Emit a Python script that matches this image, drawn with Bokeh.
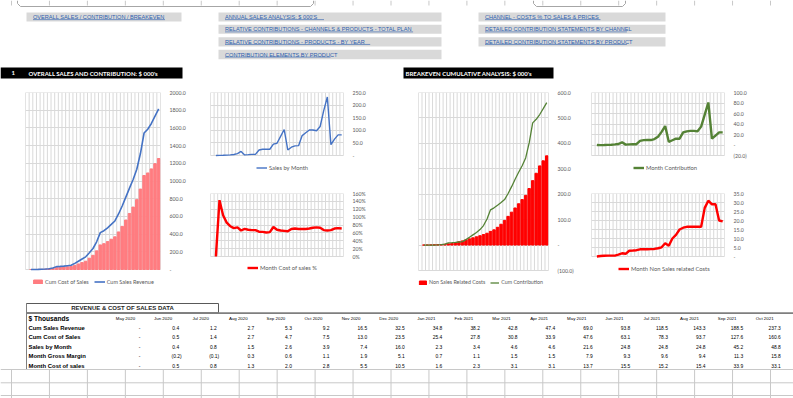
from bokeh.plotting import figure
from bokeh.models import Range1d, FixedTicker, Legend, LegendItem, CustomJSTickFormatter, Column, Row
from bokeh.embed import file_html
from bokeh.resources import INLINE
from bokeh.core.properties import value

# ---------------- data ----------------
months = ["May 2020", "Jun 2020", "Jul 2020", "Aug 2020", "Sep 2020", "Oct 2020", "Nov 2020", "Dec 2020",
          "Jan 2021", "Feb 2021", "Mar 2021", "Apr 2021", "May 2021", "Jun 2021", "Jul 2021", "Aug 2021",
          "Sep 2021", "Oct 2021", "Nov 2021", "Dec 2021", "Jan 2022", "Feb 2022", "Mar 2022", "Apr 2022",
          "May 2022", "Jun 2022", "Jul 2022", "Aug 2022", "Sep 2022", "Oct 2022", "Nov 2022", "Dec 2022",
          "Jan 2023", "Feb 2023", "Mar 2023", "Apr 2023"]

cum_sales_revenue = [0, 0.4, 1.2, 2.7, 5.3, 9.2, 16.5, 32.5, 34.8, 38.2, 42.8, 47.4, 69.0, 93.8, 118.5, 143.3,
                     188.5, 237.3, 313.3, 416.3, 438.3, 471.3, 509.3, 548.3, 627.3, 717.3, 818.3, 919.3,
                     1017.3, 1132.3, 1310.3, 1542.3, 1585.3, 1650.3, 1732.3, 1814.3]
cum_cost_of_sales = [0, 0.5, 1.4, 2.7, 4.7, 7.5, 13.0, 23.5, 25.4, 27.8, 30.8, 33.9, 47.6, 63.1, 78.3, 93.7,
                     127.6, 160.6, 210.8, 277.8, 291.9, 315.0, 342.0, 369.3, 424.6, 487.6, 559.3, 633.0,
                     705.5, 789.5, 908.8, 1061.9, 1090.7, 1136.9, 1195.9, 1254.1]
sales_by_month = [0, 0.4, 0.8, 1.5, 2.6, 3.9, 7.4, 16.0, 2.3, 3.4, 4.6, 4.6, 21.6, 24.8, 24.8, 24.8, 45.2, 48.8,
                  76.0, 103.0, 22.0, 33.0, 38.0, 39.0, 79.0, 90.0, 101.0, 101.0, 98.0, 115.0, 178.0, 232.0,
                  43.0, 65.0, 82.0, 82.0]
month_gross_margin = [0, -0.2, -0.1, 0.3, 0.6, 1.1, 1.9, 5.1, 0.7, 1.1, 1.5, 1.5, 7.9, 9.3, 9.6, 9.4, 11.3, 15.8,
                      25.0, 36.0, 6.0, 9.0, 12.0, 12.0, 24.0, 26.0, 27.0, 27.0, 26.0, 35.0, 58.0, 81.0,
                      12.0, 18.0, 24.0, 24.0]
month_cost_of_sales = [0, 0.5, 0.8, 1.3, 2.0, 2.8, 5.5, 10.5, 1.6, 2.3, 3.1, 3.1, 13.7, 15.5, 15.2, 15.4, 33.9,
                       33.1, 50.2, 67.0, 14.1, 23.1, 27.0, 27.3, 55.3, 63.0, 71.7, 73.7, 72.5, 84.0, 119.3,
                       153.1, 28.8, 46.2, 59.0, 58.2]
month_cost_pct = [0, 143, 105, 86, 77, 72, 74, 66, 70, 68, 67, 67, 63, 62.5, 61, 62, 75, 68, 66, 65, 64, 70, 71,
                  70, 70, 70, 71, 73, 74, 73, 67, 66, 67, 71, 72, 71]
month_non_sales_costs = [0, 0.3, 0.4, 0.5, 0.5, 0.5, 1.0, 1.8, 1.5, 3.2, 3.3, 3.5, 4.0, 4.0, 4.0, 4.1, 4.2, 4.6,
                         5.1, 7.4, 6.0, 10.0, 12.0, 15.0, 16.0, 16.5, 16.5, 16.5, 16.5, 16.5, 27.0, 31.0,
                         29.0, 29.0, 20.0, 19.5]
cum_non_sales_costs = [0, 0.3, 0.7, 1.2, 1.7, 2.2, 3.2, 5.0, 6.5, 9.7, 13.0, 16.5, 20.5, 24.5, 28.5, 32.6, 36.8,
                       41.4, 46.5, 53.9, 59.9, 69.9, 81.9, 96.9, 112.9, 129.4, 145.9, 162.4, 178.9, 195.4,
                       222.4, 253.4, 282.4, 311.4, 331.4, 350.9]
cum_contribution = [0, -0.1, -0.2, 0.0, 0.6, 1.7, 3.5, 9.0, 9.4, 10.4, 12.0, 13.5, 21.4, 30.7, 40.2, 49.6, 60.9,
                    76.7, 102.5, 138.5, 146.4, 156.3, 167.3, 179.0, 202.7, 229.7, 259.0, 286.3, 311.8, 342.8,
                    401.5, 480.4, 494.6, 513.4, 536.4, 560.2]

links_col1 = ["OVERALL SALES / CONTRIBUTION / BREAKEVEN"]
links_col2 = ["ANNUAL SALES ANALYSIS: $ 000'S",
              "RELATIVE CONTRIBUTIONS - CHANNELS & PRODUCTS - TOTAL PLAN",
              "RELATIVE CONTRIBUTIONS -  PRODUCTS - BY YEAR",
              "CONTRIBUTION ELEMENTS BY PRODUCT"]
links_col3 = ["CHANNEL - COSTS % TO SALES & PRICES",
              "DETAILED CONTRIBUTION STATEMENTS BY CHANNEL",
              "DETAILED CONTRIBUTION STATEMENTS BY PRODUCT"]
section_titles = ["OVERALL SALES AND CONTRIBUTION: $ 000's", "BREAKEVEN CUMULATIVE ANALYSIS: $ 000's"]
table_title = "REVENUE & COST OF SALES DATA"
table_rows = ["Cum Sales Revenue", "Cum Cost of Sales", "Sales by Month", "Month Gross Margin", "Month Cost of sales"]
table_series = [cum_sales_revenue, cum_cost_of_sales, sales_by_month, month_gross_margin, month_cost_of_sales]
table_months = months[:18]

# ---------------- style ----------------
FONT = "Lato"
SHEET_FONT = "Liberation Sans"
GRID = "#D9D9D9"
LBL = "#595959"
SHEET_LINE = "#C8C8C8"
LINK = "#2E5FAE"

N_CAT = len(months) + 1
xs = list(range(1, len(months) + 1))
bounds = [k - 0.5 for k in range(N_CAT + 1)]

NUM_JS = """
if (Math.abs(tick) < 1e-9) { return '-'; }
if (tick < 0) { return '(' + (-tick).toFixed(1) + ')'; }
return tick.toFixed(1);
"""
PCT_JS = "return tick.toFixed(0) + '%';"


def deco(w, h):
    p = figure(width=w, height=h, x_range=Range1d(0, w), y_range=Range1d(h, 0),
               output_backend="svg", toolbar_location=None, min_border=0,
               x_axis_location=None, y_axis_location=None)
    p.grid.visible = False
    p.outline_line_color = None
    return p


def chart(w, h, bl, br, bt, data_h, ymin, ymax, ticks, js):
    # the frame runs down to the bottom edge so that the legend sits inside it
    ext = h - bt - data_h
    y0 = ymin - (ymax - ymin) * ext / data_h
    p = figure(width=w, height=h, x_range=Range1d(-0.5, N_CAT - 0.5), y_range=Range1d(y0, ymax),
               output_backend="svg", toolbar_location=None, x_axis_location=None, y_axis_location="right",
               min_border_left=bl, min_border_right=br, min_border_top=bt, min_border_bottom=0)
    tk = FixedTicker(ticks=ticks)
    ax = p.yaxis[0]
    ax.ticker = tk
    ax.formatter = CustomJSTickFormatter(code=js)
    ax.axis_line_color = None
    ax.major_tick_line_color = None
    ax.minor_tick_line_color = None
    ax.major_label_text_font = FONT
    ax.major_label_text_font_size = "5.2px"
    ax.major_label_text_color = LBL
    ax.major_label_standoff = 3
    p.ygrid.ticker = tk
    p.ygrid.grid_line_color = GRID
    p.xgrid.visible = False
    p.outline_line_color = None
    n = len(bounds)
    p.segment(x0=bounds, y0=[ymin] * n, x1=bounds, y1=[ymax] * n, color=GRID, line_width=1)
    p.quad(left=[-0.5], right=[N_CAT - 0.5], top=[ymax], bottom=[ymin], fill_color=None,
           line_color=GRID, line_width=1)
    return p


def add_legend(p, items, x, y, gw=11, fs="5.8px", sp=6):
    leg = Legend(items=[LegendItem(label=value(lab), renderers=[r]) for lab, r in items],
                 orientation="horizontal", location=(x, y), glyph_width=gw, glyph_height=5,
                 label_height=6, label_width=10, label_text_font=FONT, label_text_font_size=fs,
                 label_text_color=LBL, label_standoff=2, spacing=sp, padding=0, margin=0,
                 border_line_color=None, background_fill_alpha=0)
    p.add_layout(leg)


# ---------------- top panel (links + section bars) ----------------
top = deco(793, 86)
colx = [11 + 37.95 * k for k in range(21)]
top.segment(x0=colx, y0=[0] * len(colx), x1=colx, y1=[5] * len(colx), color=SHEET_LINE, line_width=1)
top.line(x=[17, 17, 20, 310, 313, 313], y=[0, 3, 6, 6, 3, 0], color="#A6A6A6", line_width=1)
top.line(x=[533, 533, 536, 622, 625, 625], y=[0, 3, 6, 6, 3, 0], color="#A6A6A6", line_width=1)

box_rows = [(12, 21), (24.3, 33.3), (36.7, 46), (49.3, 58.7)]
link_groups = [(links_col1, 26, 181, 32.5), (links_col2, 218, 441, 224.5), (links_col3, 478, 665, 484.5)]
for texts, bx0, bx1, tx in link_groups:
    n = len(texts)
    tops = [box_rows[i][0] for i in range(n)]
    bots = [box_rows[i][1] for i in range(n)]
    top.quad(left=[bx0] * n, right=[bx1] * n, top=tops, bottom=bots, fill_color="#D9D9D9", line_color=None)
    mids = [(a + b) / 2 for a, b in zip(tops, bots)]
    top.text(x=[tx] * n, y=mids, text=texts, text_font=value(SHEET_FONT), text_font_size="5.6px",
             text_color=LINK, text_align="left", text_baseline="middle")
    widths = [len(t) * 3.3 for t in texts]
    top.segment(x0=[tx] * n, y0=[m + 2.6 for m in mids], x1=[tx + wd for wd in widths],
                y1=[m + 2.6 for m in mids], color=LINK, line_width=0.6)

top.quad(left=[0, 403], right=[182, 553], top=[67, 67], bottom=[78, 78], fill_color="black", line_color=None)
top.text(x=[11, 28, 405], y=[72.7, 72.7, 72.7], text=["1"] + section_titles,
         text_font=value(FONT), text_font_size="6px", text_font_style="bold", text_color="white",
         text_align="left", text_baseline="middle")

# ---------------- charts ----------------
pA = chart(190, 209, 25, 30, 6, 177, 0, 2000, list(range(0, 2001, 200)), NUM_JS)
rA1 = pA.vbar(x=xs, top=cum_cost_of_sales, width=0.7, color="#FF7C80")
rA2 = pA.line(x=xs, y=cum_sales_revenue, color="#4472C4", line_width=1.6)
add_legend(pA, [("Cum Cost of Sales", rA1), ("Cum Sales Revenue", rA2)], 7, 10.5, fs="5.5px", sp=5)

pB1 = chart(210, 90, 20, 57, 6, 63, 0, 250, list(range(0, 251, 50)), NUM_JS)
rB1 = pB1.line(x=xs, y=sales_by_month, color="#4472C4", line_width=1.4)
add_legend(pB1, [("Sales by Month", rB1)], 46, 5.2)

pB2 = chart(210, 119, 20, 57, 17, 63, 0, 160, list(range(0, 161, 20)), PCT_JS)
rB2 = pB2.line(x=xs, y=month_cost_pct, color="#FF0000", line_width=2.4)
add_legend(pB2, [("Month Cost of sales %", rB2)], 37, 23.8)

pC = chart(180, 209, 18, 32, 6, 178, -100, 600, list(range(-100, 601, 100)), NUM_JS)
rC1 = pC.vbar(x=xs, top=cum_non_sales_costs, width=0.7, color="#FF0000")
rC2 = pC.line(x=xs, y=cum_contribution, color="#548235", line_width=1.3)
add_legend(pC, [("Non Sales Related Costs", rC1), ("Cum Contribution", rC2)], 0, 9.8, gw=9, fs="5.3px", sp=5)

pD1 = chart(213, 91, 11, 69, 6, 63, -20, 100, list(range(-20, 101, 20)), NUM_JS)
rD1 = pD1.line(x=xs, y=month_gross_margin, color="#548235", line_width=2.4)
add_legend(pD1, [("Month Contribution", rD1)], 42, 6.2)

pD2 = chart(213, 118, 11, 69, 16, 63, 0, 35, list(range(0, 36, 5)), NUM_JS)
rD2 = pD2.line(x=xs, y=month_non_sales_costs, color="#FF0000", line_width=2.4)
add_legend(pD2, [("Month Non Sales related Costs", rD2)], 27, 23.2)

# ---------------- table ----------------
tbl = deco(793, 103)
tbl.quad(left=[26], right=[218], top=[8], bottom=[17.3], fill_color=None, line_color="#595959", line_width=1)
tbl.segment(x0=[26], y0=[17.6], x1=[793], y1=[17.6], color="#7F7F7F", line_width=1.6)
tbl.segment(x0=[26], y0=[8], x1=[26], y1=[74], color="#7F7F7F", line_width=1)
tbl.text(x=[122], y=[12.8], text=[table_title], text_font=value(SHEET_FONT),
         text_font_size="6px", text_font_style="bold", text_color="#262626", text_align="center",
         text_baseline="middle")
tbl.text(x=[28], y=[23.3], text=["$ Thousands"], text_font=value(SHEET_FONT), text_font_size="6.6px",
         text_font_style="bold", text_color="black", text_align="left", text_baseline="middle")

col_right = [141 + 37.6 * i for i in range(len(table_months))]
tbl.text(x=[r - 16 for r in col_right], y=[23.3] * len(table_months), text=table_months,
         text_font=value(SHEET_FONT), text_font_size="4.4px", text_color="black", text_align="center",
         text_baseline="middle")

row_y = [32.3, 41.7, 51.1, 60.7, 70.3]
tbl.text(x=[28] * len(table_rows), y=row_y, text=table_rows, text_font=value(SHEET_FONT),
         text_font_size="5.9px", text_font_style="bold", text_color="black", text_align="left",
         text_baseline="middle")


def fmt(v):
    if abs(v) < 0.05:
        return "-"
    if v < 0:
        return "(%.1f)" % (-v)
    return "%.1f" % v


vx, vy, vt = [], [], []
for series, yy in zip(table_series, row_y):
    for i in range(len(table_months)):
        v = series[i]
        s = fmt(v)
        vt.append(s)
        vy.append(yy)
        vx.append(col_right[i] + (2.5 if v < -0.05 else (-1 if s == "-" else 0)))
tbl.text(x=vx, y=vy, text=vt, text_font=value(SHEET_FONT), text_font_size="4.9px", text_color="black",
         text_align="right", text_baseline="middle")

grid_y = [74, 87.3, 100]
tbl.segment(x0=[0] * 3, y0=grid_y, x1=[793] * 3, y1=grid_y, color=SHEET_LINE, line_width=1)
tbl.segment(x0=colx, y0=[74] * len(colx), x1=colx, y1=[103] * len(colx), color=SHEET_LINE, line_width=1)

# ---------------- layout ----------------
colB = Column(children=[pB1, pB2], spacing=0)
colD = Column(children=[pD1, pD2], spacing=0)
mid = Row(children=[pA, colB, pC, colD], spacing=0)
root = Column(children=[top, mid, tbl], spacing=0)

with open("out.html", "w") as f:
    f.write(file_html(root, INLINE))
